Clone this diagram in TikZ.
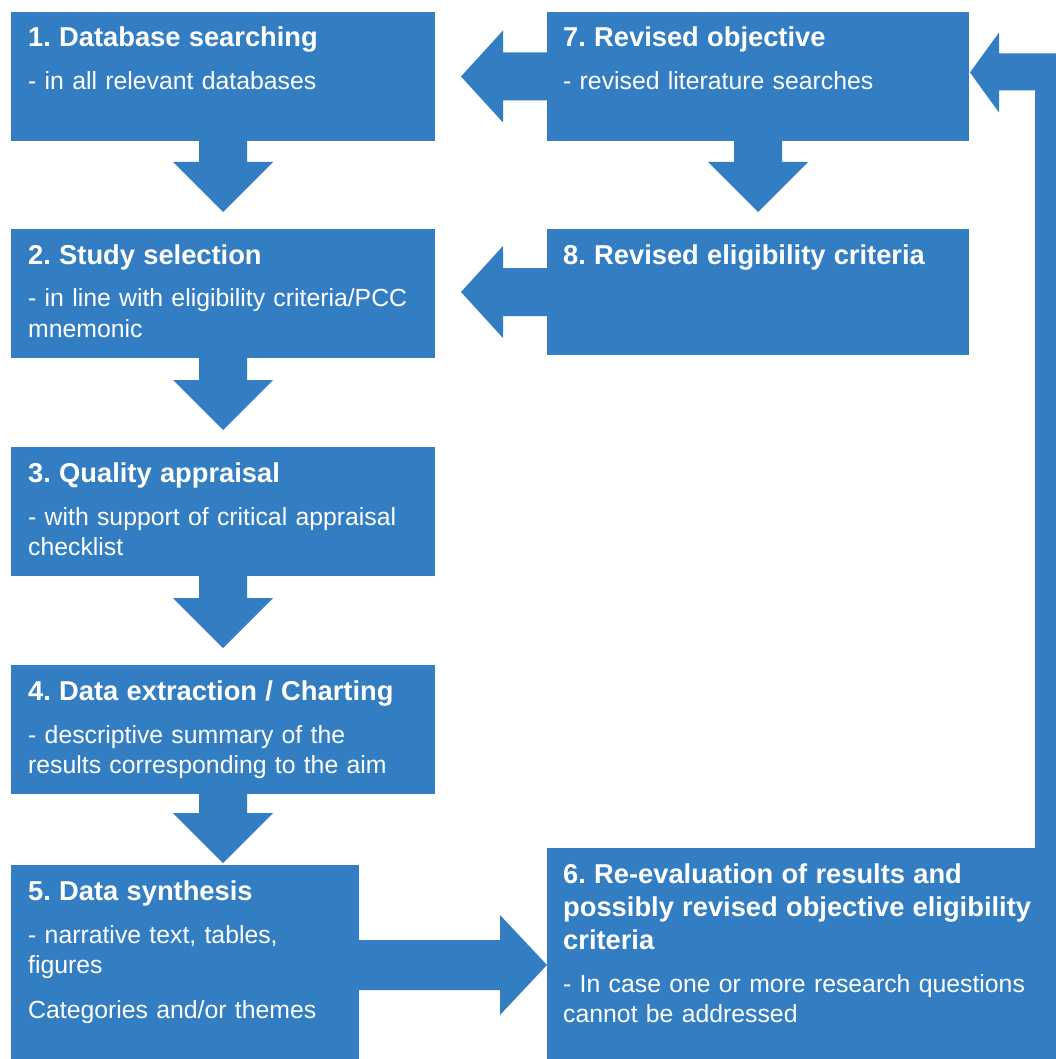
\documentclass[tikz,border=0pt]{standalone}
\usepackage{fontspec}
\setmainfont{Liberation Sans}
\usepackage{tikz}
\usetikzlibrary{calc}
\definecolor{flowblue}{RGB}{51,126,194}
\frenchspacing

\begin{document}
\begin{tikzpicture}[
  x=1pt, y=-1pt,
  stage/.style    ={fill=flowblue, anchor=north west, inner sep=0pt, outer sep=0pt,
                    minimum width=424pt, minimum height=129pt},
  stagetext/.style={anchor=base west, text=white, inner sep=0pt, align=left,
                    text width=520pt, font=\fontsize{24.8}{30}\selectfont},
  flow/.style     ={fill=flowblue}]

% title line of a stage, then the gap to its notes
\newcommand{\stagetitle}[1]{{\fontsize{27.3}{33}\selectfont\bfseries #1\par}\vspace{13pt}}
% fat arrow down: shaft from #1, tip #3 above the top of #2
\newcommand{\downflow}[3]{%
  \coordinate (tip) at ($(#1.south |- #2.north)+(0,-#3)$);
  \fill[flow] ($(#1.south)+(-24,0)$) -- ($(tip)+(-24,-50)$) -- ($(tip)+(-50,-50)$)
    -- (tip) -- ($(tip)+(50,-50)$) -- ($(tip)+(24,-50)$) -- ($(#1.south)+(24,0)$) -- cycle;}
% fat arrow left: shaft from #1, tip #3 right of #2
\newcommand{\leftflow}[3]{%
  \coordinate (tip) at ($(#2.east |- #1.west)+(#3,0)$);
  \fill[flow] ($(#1.west)+(0,-24)$) -- ($(tip)+(42,-24)$) -- ($(tip)+(42,-46)$)
    -- (tip) -- ($(tip)+(42,46)$) -- ($(tip)+(42,24)$) -- ($(#1.west)+(0,24)$) -- cycle;}

\path[fill=white, use as bounding box] (0,0) rectangle (1056,1059);
\clip (0,0) rectangle (1056,1059);

% ==========================  left column  ============================
\node[stage] (s1) at (11,12)  {};
\node[stage] (s2) at (11,229) {};
\node[stage] (s3) at (11,447) {};
\node[stage] (s4) at (11,665) {};
\node[stage, minimum width=348pt, minimum height=220pt] (s5) at (11,865) {};

\node[stagetext] (t1) at ($(s1.north west)+(17,35)$) {%
  \stagetitle{1. Database searching}- in all relevant databases};
\node[stagetext] (t2) at ($(s2.north west)+(17,35)$) {%
  \stagetitle{2. Study selection}- in line with eligibility criteria/PCC\\mnemonic};
\node[stagetext] (t3) at ($(s3.north west)+(17,35)$) {%
  \stagetitle{3. Quality appraisal}- with support of critical appraisal\\checklist};
\node[stagetext] (t4) at ($(s4.north west)+(17,35)$) {%
  \stagetitle{4. Data extraction / Charting}- descriptive summary of the\\results corresponding to the aim};
\node[stagetext] (t5) at ($(s5.north west)+(17,35)$) {%
  \stagetitle{5. Data synthesis}- narrative text, tables,\\figures\par\vspace{15pt}Categories and/or themes};

% ==========================  right column  ===========================
\node[stage, minimum width=422pt] (s7) at (547,12) {};
\node[stage, minimum width=422pt, minimum height=126pt] (s8) at (547,229) {};
\node[stage, minimum width=540pt, minimum height=240pt] (s6) at (547,848) {};

\node[stagetext] (t7) at ($(s7.north west)+(16,35)$) {%
  \stagetitle{7. Revised objective}- revised literature searches};
\node[stagetext] (t8) at ($(s8.north west)+(16,35)$) {%
  {\fontsize{27.3}{33}\selectfont\bfseries 8. Revised eligibility criteria}};
\node[stagetext] (t6) at ($(s6.north west)+(16,35)$) {%
  \stagetitle{6. Re-evaluation of results and\\possibly revised objective eligibility\\criteria}%
  - In case one or more research questions\\cannot be addressed};

% =============================  arrows  ==============================
\downflow{s1}{s2}{17}
\downflow{s2}{s3}{17}
\downflow{s3}{s4}{17}
\downflow{s4}{s5}{2}
\downflow{s7}{s8}{17}

\leftflow{s7}{s1}{26}
\leftflow{s8}{s2}{26}

% 5 -> 6
\coordinate (c56) at ($(s5.north east)+(0,100)$);
\fill[flow] ($(c56)+(0,-25)$) -- ($(s6.west |- c56)+(-47,-25)$) -- ++(0,-25)
  -- (s6.west |- c56) -- ($(s6.west |- c56)+(-47,50)$) -- ++(0,-25)
  -- ($(c56)+(0,25)$) -- cycle;

% 6 -> 7, back up the right side
\coordinate (fbtip) at ($(s7.east)+(1,-4)$);
\fill[flow] (fbtip) -- ++(29,-40) -- ++(0,21) -- ++(73,0) coordinate (fbcorner)
  -- (fbcorner |- s6.north) -- ++(-37,0) -- ($(fbtip)+(65,18)$)
  -- ($(fbtip)+(29,18)$) -- ($(fbtip)+(29,40)$) -- cycle;

\end{tikzpicture}
\end{document}
